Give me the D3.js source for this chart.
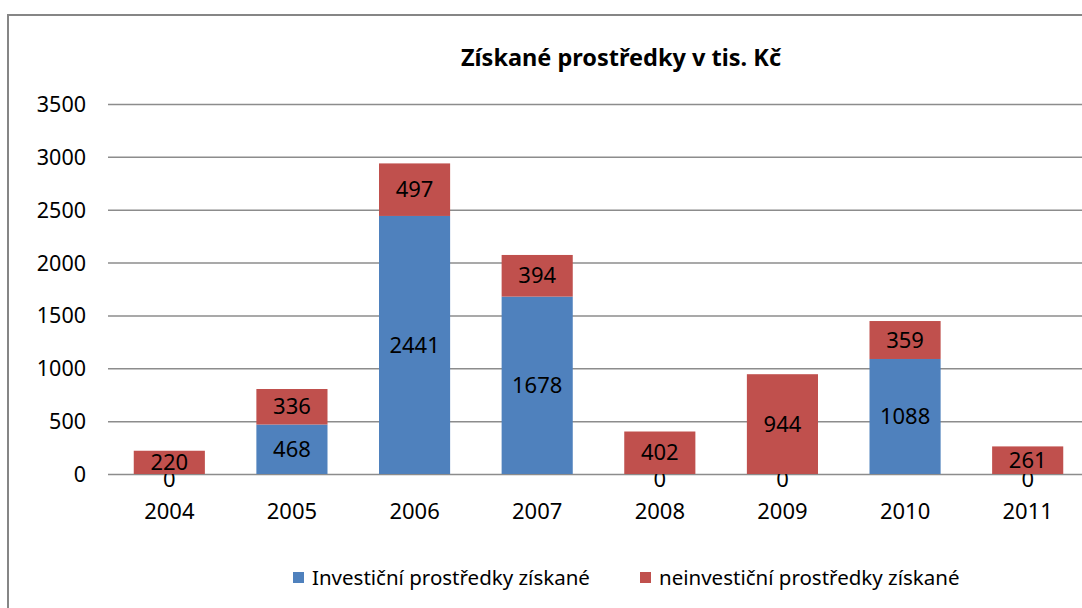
<!DOCTYPE html>
<html>
<head>
<meta charset="utf-8">
<script src="https://cdn.jsdelivr.net/npm/d3@7"></script>
<style>
  body { margin: 0; background: #fff; }
  text { font-family: "Noto Sans", "Open Sans", sans-serif; fill: #000; }
</style>
</head>
<body>
<svg id="chart"></svg>
<script>
let years = ["2004", "2005", "2006", "2007", "2008", "2009", "2010", "2011"];
let investicni = [0, 468, 2441, 1678, 0, 0, 1088, 0];
let neinvesticni = [220, 336, 497, 394, 402, 944, 359, 261];
let seriesNames = ["Investiční prostředky získané", "neinvestiční prostředky získané"];
let yTicks = [0, 500, 1000, 1500, 2000, 2500, 3000, 3500];
let colors = ["#4f81bd", "#c0504d"];

let w = 1082;
let h = 608;
let plotLeft = 108;
let plotRight = 1089;
let plotTop = 104;
let plotBottom = 474;

let svg = d3.select("#chart")
    .attr("width", w)
    .attr("height", h);

// chart frame, cut off on the right and bottom like the screenshot
svg.append("rect")
   .attr("x", 8)
   .attr("y", 15)
   .attr("width", 1200)
   .attr("height", 700)
   .attr("fill", "#fff")
   .attr("stroke", "#868686")
   .attr("stroke-width", 2);

let xScale = d3.scaleBand()
               .domain(years)
               .range([plotLeft, plotRight])
               .paddingInner(0.42)
               .paddingOuter(0.21);

let yScale = d3.scaleLinear()
               .domain([0, 3500])
               .range([plotBottom, plotTop]);

// gridlines + y labels
let yAxis = d3.axisLeft(yScale)
              .tickValues(yTicks)
              .tickSize(-(w + 20 - plotLeft))
              .tickPadding(22)
              .tickFormat(d3.format("d"));

let gy = svg.append("g")
   .attr("transform", `translate(${plotLeft}, 0)`)
   .call(yAxis);
gy.select(".domain").remove();
gy.selectAll(".tick line").attr("stroke", "#8c8c8c").attr("stroke-width", 1.5);
gy.selectAll(".tick text").style("font-size", "21.5px").attr("dy", "0.35em");

let xAxis = d3.axisBottom(xScale).tickSize(0).tickPadding(29);
let gx = svg.append("g")
   .attr("transform", `translate(0, ${plotBottom})`)
   .call(xAxis);
gx.select(".domain").remove();
gx.selectAll(".tick text").style("font-size", "22px");

let rows = years.map((y, i) => ({ year: y, inv: investicni[i], neinv: neinvesticni[i] }));
let stacked = d3.stack().keys(["inv", "neinv"])(rows);

let groups = svg.selectAll(".series")
   .data(stacked)
   .enter()
   .append("g")
   .attr("fill", (d, i) => colors[i]);

groups.selectAll("rect")
   .data((d) => d)
   .enter()
   .append("rect")
   .attr("x", (d) => xScale(d.data.year))
   .attr("width", xScale.bandwidth())
   .attr("y", (d) => yScale(d[1]))
   .attr("height", (d) => yScale(d[0]) - yScale(d[1]));

groups.selectAll("text")
   .data((d) => d)
   .enter()
   .append("text")
   .attr("x", (d) => xScale(d.data.year) + xScale.bandwidth() / 2)
   .attr("y", (d) => yScale((d[0] + d[1]) / 2))
   .attr("text-anchor", "middle")
   .attr("dy", (d) => d[1] - d[0] === 0 ? "0.6em" : "0.35em")
   .style("font-size", "22px")
   .text((d) => d[1] - d[0]);

// title
svg.append("text")
   .attr("x", 621)
   .attr("y", 66)
   .attr("text-anchor", "middle")
   .style("font-size", "23.5px")
   .style("font-weight", "bold")
   .text("Získané prostředky v tis. Kč");

// legend
let legendX = [293, 640];
let legend = svg.selectAll(".legend")
   .data(seriesNames)
   .enter()
   .append("g")
   .attr("transform", (d, i) => `translate(${legendX[i]}, 572)`);

legend.append("rect")
   .attr("width", 11)
   .attr("height", 11)
   .attr("fill", (d, i) => colors[i]);

legend.append("text")
   .attr("x", 19)
   .attr("y", 6)
   .attr("dy", "0.35em")
   .style("font-size", "20.5px")
   .text((d) => d);
</script>
</body>
</html>
